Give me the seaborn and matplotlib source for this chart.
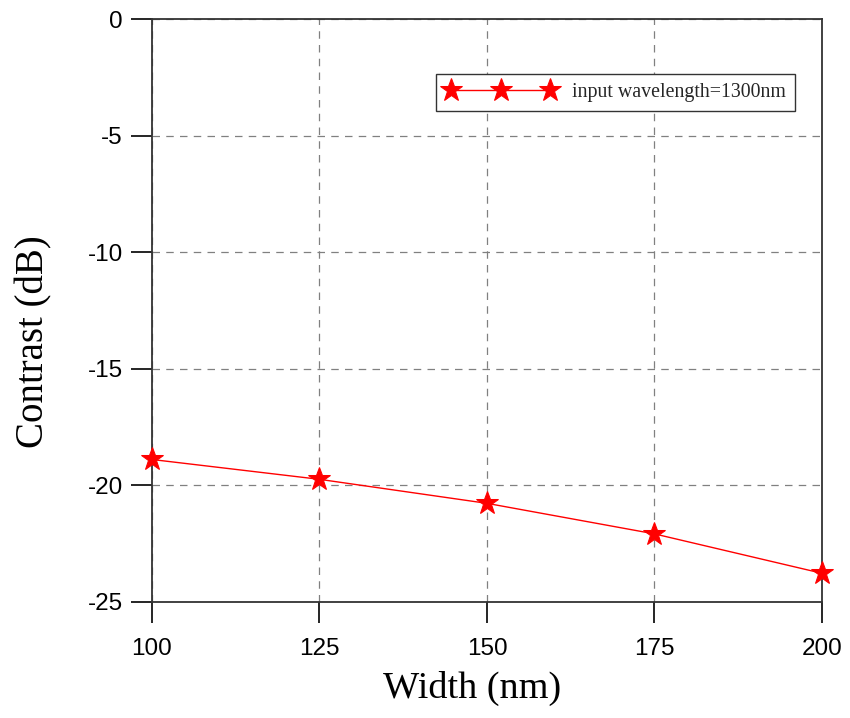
import matplotlib
matplotlib.use("Agg")
import matplotlib.pyplot as plt
import seaborn as sns
import pandas as pd

widths = [100, 125, 150, 175, 200]
contrast = [-18.89, -19.74, -20.77, -22.08, -23.77]
series_label = "input wavelength=1300nm"
xticks = [100, 125, 150, 175, 200]
yticks = [0, -5, -10, -15, -20, -25]

sns.set_theme(style="white")
plt.rcParams['font.family'] = ['Liberation Sans', 'DejaVu Sans']

df = pd.DataFrame({"Width": widths, "Contrast": contrast})

fig = plt.figure(figsize=(8.5, 7.18), dpi=100)
ax = fig.add_axes([0.1788, 0.1616, 0.967 - 0.1788, 0.9735 - 0.1616])

sns.lineplot(data=df, x="Width", y="Contrast", ax=ax, color="red", linewidth=1.0,
             marker="*", markersize=17, markeredgecolor="red", markerfacecolor="red",
             label=series_label, clip_on=False, zorder=5)

ax.set_xlim(100, 200)
ax.set_ylim(-25, 0)
ax.set_xticks(xticks)
ax.set_yticks(yticks)
ax.set_xticklabels([str(v) for v in xticks])
ax.set_yticklabels([str(v) for v in yticks])
ax.tick_params(axis="both", direction="out", length=15, width=1.2, color="black",
               labelsize=17.5, labelcolor="black")
ax.tick_params(axis="x", pad=11)
ax.tick_params(axis="y", pad=6)
ax.tick_params(axis="both", which="both", bottom=True, left=True)

ax.grid(True, linestyle=(0, (6, 5)), color="#808080", linewidth=0.9)
for s in ax.spines.values():
    s.set_visible(True)
    s.set_color("#333333")
    s.set_linewidth(1.3)

ax.set_xlabel("Width (nm)", family=["Liberation Serif"], fontsize=27.5, color="black")
ax.set_ylabel("Contrast (dB)", family=["Liberation Serif"], fontsize=28, color="black")
ax.xaxis.set_label_coords(0.4776, -0.118)
ax.yaxis.set_label_coords(-0.148, 0.446)

leg = ax.legend(loc="upper right", bbox_to_anchor=(0.9597, 0.9057), borderaxespad=0,
                numpoints=3, prop={"family": "Liberation Serif", "size": 14.3},
                frameon=True, fancybox=False, edgecolor="#333333", framealpha=1,
                handlelength=5.6, borderpad=0.45, handletextpad=0.8)
leg.get_frame().set_linewidth(1.0)

fig.savefig("out.png", dpi=100)
